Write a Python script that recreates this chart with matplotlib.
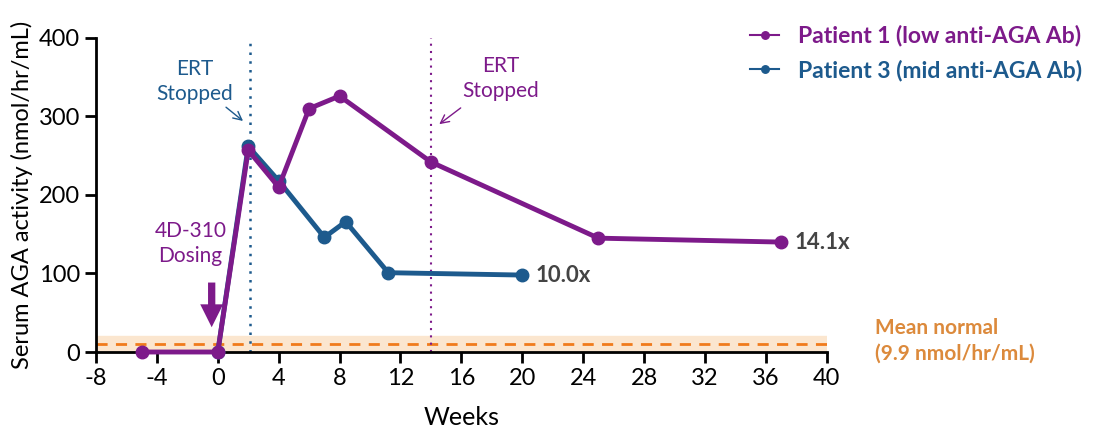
import numpy as np
import matplotlib
matplotlib.use('Agg')
import matplotlib.pyplot as plt

plt.rcParams['font.family'] = ['Lato', 'DejaVu Sans']
plt.rcParams['font.size'] = 15
plt.rcParams['axes.unicode_minus'] = False

# data
p1_weeks = [-5, 0, 2, 4, 6, 8, 14, 25, 37]
p1_aga = [0, 0, 257, 210, 310, 326, 242, 145, 140]
p3_weeks = [0, 2, 4, 7, 8.4, 11.2, 20]
p3_aga = [0, 262, 218, 146, 166, 101, 98]
p1_label = 'Patient 1 (low anti-AGA Ab)'
p3_label = 'Patient 3 (mid anti-AGA Ab)'
p1_fold = '14.1x'
p3_fold = '10.0x'
mean_normal = 9.9
normal_band = (0, 21)
ert_stop_p3 = 2.1
ert_stop_p1 = 14
dosing_week = -0.4

purple = '#7d1a8a'
blue = '#1d5a8d'
orange = '#f07b1c'
gray = '#444444'

fig = plt.figure(figsize=(10.98, 4.41), dpi=100)
ax = fig.add_axes([0.0874, 0.2018, 0.6656, 0.7122])

ax.axhspan(normal_band[0], normal_band[1], color='#fbe6cf', zorder=0)
ax.axhline(mean_normal, color=orange, linestyle=(0, (4, 3)), linewidth=2, zorder=1)

ax.axvline(ert_stop_p3, color=blue, linestyle=(0, (1, 2.5)), linewidth=1.8, zorder=1)
ax.axvline(ert_stop_p1, color=purple, linestyle=(0, (1, 2.5)), linewidth=1.5, zorder=1)

ax.plot(p3_weeks, p3_aga, '-o', color=blue, linewidth=3.5, markersize=9,
        clip_on=False, zorder=3, label=p3_label)
ax.plot(p1_weeks, p1_aga, '-o', color=purple, linewidth=3.5, markersize=9,
        clip_on=False, zorder=4, label=p1_label)

ax.text(p1_weeks[-1] + 0.9, p1_aga[-1], p1_fold, color=gray, fontsize=16,
        fontweight='bold', va='center', ha='left')
ax.text(p3_weeks[-1] + 0.9, p3_aga[-1], p3_fold, color=gray, fontsize=16,
        fontweight='bold', va='center', ha='left')

# annotations
ax.text(-1.5, 345, 'ERT\nStopped', color=blue, fontsize=15, ha='center',
        va='center', linespacing=1.3)
ax.annotate('', xy=(1.8, 292), xytext=(0.4, 314),
            arrowprops=dict(arrowstyle='->', color=blue, lw=1))
ax.text(18.6, 348, 'ERT\nStopped', color=purple, fontsize=15, ha='center',
        va='center', linespacing=1.3)
ax.annotate('', xy=(14.4, 288), xytext=(16.1, 313),
            arrowprops=dict(arrowstyle='->', color=purple, lw=1))
ax.text(-1.8, 138, '4D-310\nDosing', color=purple, fontsize=15, ha='center',
        va='center', linespacing=1.3)
ax.annotate('', xy=(dosing_week, 28), xytext=(dosing_week, 92),
            arrowprops=dict(arrowstyle='simple,head_length=1.1,head_width=1.1,tail_width=0.35',
                            color=purple, lw=0))

ax.set_xlim(-8, 40)
ax.set_ylim(0, 400)
ax.set_xticks(np.arange(-8, 41, 4))
ax.set_yticks([0, 100, 200, 300, 400])
ax.spines['top'].set_visible(False)
ax.spines['right'].set_visible(False)
for s in ('left', 'bottom'):
    ax.spines[s].set_linewidth(2)
ax.tick_params(width=2, length=8, labelsize=17)
ax.set_xlabel('Weeks', fontsize=18, labelpad=12)
ax.set_ylabel('Serum AGA activity (nmol/hr/mL)', fontsize=17, labelpad=4)

handles, labels = ax.get_legend_handles_labels()
leg = fig.legend(handles[::-1], labels[::-1], loc='upper left',
                 bbox_to_anchor=(0.664, 0.99), frameon=False,
                 handlelength=1.3, markerscale=0.6, handletextpad=0.8,
                 labelspacing=0.55, prop={'weight': 'bold', 'size': 16.5})
for txt, col in zip(leg.get_texts(), [purple, blue]):
    txt.set_color(col)
for ln in leg.get_lines():
    ln.set_linewidth(1.5)

fig.text(0.797, 0.227, 'Mean normal\n(9.9 nmol/hr/mL)', color='#dc8a3c',
         fontsize=15, fontweight='bold', va='center', ha='left', linespacing=1.3)

plt.savefig('out.png', dpi=100)
plt.close()
